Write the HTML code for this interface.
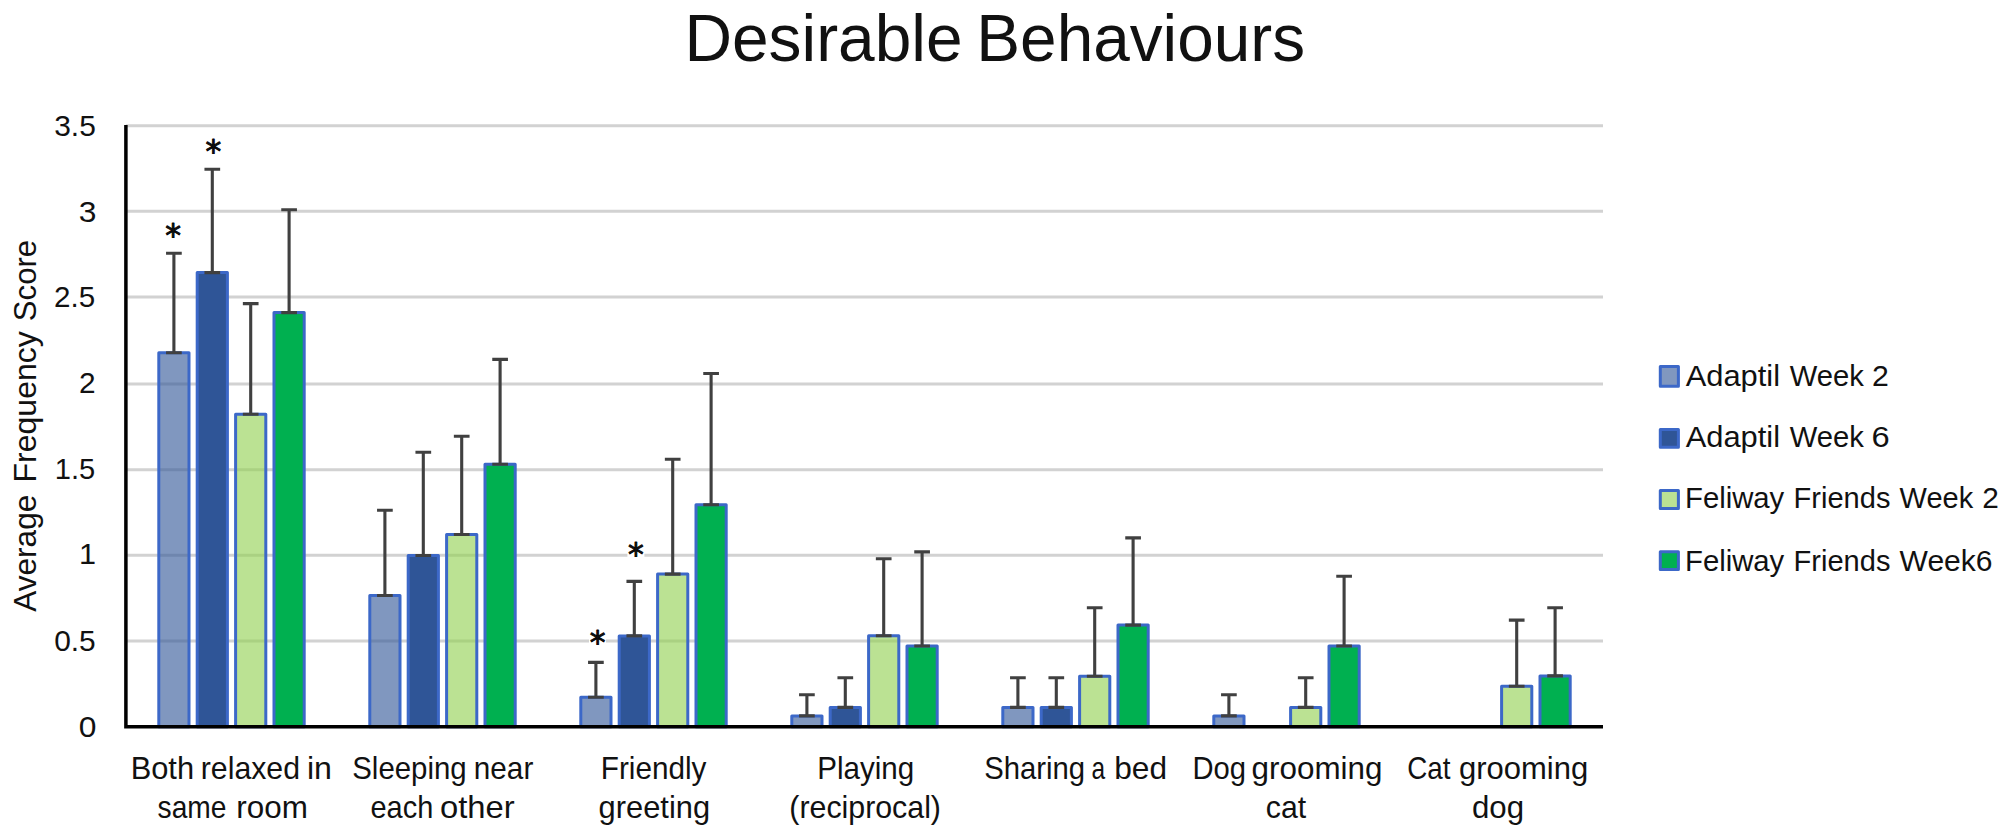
<!DOCTYPE html>
<html lang="en"><head><meta charset="utf-8"><title>Desirable Behaviours</title>
<style>html,body{margin:0;padding:0;background:#fff}body{width:2008px;height:835px;overflow:hidden}svg{display:block}text{font-family:"Liberation Sans",sans-serif;fill:#111}</style></head><body>
<svg width="2008" height="835" viewBox="0 0 2008 835">
<rect width="2008" height="835" fill="#fff"/>
<g stroke="#d2d2d2" stroke-width="3">
<line x1="125.9" y1="641.00" x2="1603.0" y2="641.00"/>
<line x1="125.9" y1="555.30" x2="1603.0" y2="555.30"/>
<line x1="125.9" y1="469.70" x2="1603.0" y2="469.70"/>
<line x1="125.9" y1="384.00" x2="1603.0" y2="384.00"/>
<line x1="125.9" y1="296.90" x2="1603.0" y2="296.90"/>
<line x1="125.9" y1="211.30" x2="1603.0" y2="211.30"/>
<line x1="125.9" y1="125.70" x2="1603.0" y2="125.70"/>
</g>
<g stroke="#3c68c8" stroke-width="3" stroke-linejoin="round">
<rect x="158.80" y="352.80" width="30.2" height="373.90" fill="rgba(47,85,151,0.61)"/>
<rect x="197.20" y="272.60" width="30.2" height="454.10" fill="#2f5597"/>
<rect x="235.60" y="414.20" width="30.2" height="312.50" fill="rgba(146,208,80,0.62)"/>
<rect x="274.00" y="312.60" width="30.2" height="414.10" fill="#00b050"/>
<rect x="369.80" y="595.50" width="30.2" height="131.20" fill="rgba(47,85,151,0.61)"/>
<rect x="408.20" y="555.50" width="30.2" height="171.20" fill="#2f5597"/>
<rect x="446.60" y="534.50" width="30.2" height="192.20" fill="rgba(146,208,80,0.62)"/>
<rect x="485.00" y="464.20" width="30.2" height="262.50" fill="#00b050"/>
<rect x="580.80" y="697.30" width="30.2" height="29.40" fill="rgba(47,85,151,0.61)"/>
<rect x="619.20" y="635.90" width="30.2" height="90.80" fill="#2f5597"/>
<rect x="657.60" y="574.10" width="30.2" height="152.60" fill="rgba(146,208,80,0.62)"/>
<rect x="696.00" y="504.70" width="30.2" height="222.00" fill="#00b050"/>
<rect x="791.80" y="715.90" width="30.2" height="10.80" fill="rgba(47,85,151,0.61)"/>
<rect x="830.20" y="707.40" width="30.2" height="19.30" fill="#2f5597"/>
<rect x="868.60" y="635.70" width="30.2" height="91.00" fill="rgba(146,208,80,0.62)"/>
<rect x="907.00" y="646.00" width="30.2" height="80.70" fill="#00b050"/>
<rect x="1002.80" y="707.40" width="30.2" height="19.30" fill="rgba(47,85,151,0.61)"/>
<rect x="1041.20" y="707.40" width="30.2" height="19.30" fill="#2f5597"/>
<rect x="1079.60" y="676.20" width="30.2" height="50.50" fill="rgba(146,208,80,0.62)"/>
<rect x="1118.00" y="625.10" width="30.2" height="101.60" fill="#00b050"/>
<rect x="1213.80" y="715.90" width="30.2" height="10.80" fill="rgba(47,85,151,0.61)"/>
<rect x="1290.60" y="707.40" width="30.2" height="19.30" fill="rgba(146,208,80,0.62)"/>
<rect x="1329.00" y="646.00" width="30.2" height="80.70" fill="#00b050"/>
<rect x="1501.60" y="686.20" width="30.2" height="40.50" fill="rgba(146,208,80,0.62)"/>
<rect x="1540.00" y="675.90" width="30.2" height="50.80" fill="#00b050"/>
</g>
<g stroke="#404040" stroke-width="3.1" fill="none">
<path d="M166.05 253.20H181.75M173.90 253.20V352.80M166.05 352.80H181.75"/>
<path d="M204.45 169.20H220.15M212.30 169.20V272.60M204.45 272.60H220.15"/>
<path d="M242.85 303.60H258.55M250.70 303.60V414.20M242.85 414.20H258.55"/>
<path d="M281.25 209.70H296.95M289.10 209.70V312.60M281.25 312.60H296.95"/>
<path d="M377.05 510.30H392.75M384.90 510.30V595.50M377.05 595.50H392.75"/>
<path d="M415.45 452.20H431.15M423.30 452.20V555.50M415.45 555.50H431.15"/>
<path d="M453.85 436.30H469.55M461.70 436.30V534.50M453.85 534.50H469.55"/>
<path d="M492.25 359.40H507.95M500.10 359.40V464.20M492.25 464.20H507.95"/>
<path d="M588.05 662.40H603.75M595.90 662.40V697.30M588.05 697.30H603.75"/>
<path d="M626.45 581.40H642.15M634.30 581.40V635.90M626.45 635.90H642.15"/>
<path d="M664.85 459.20H680.55M672.70 459.20V574.10M664.85 574.10H680.55"/>
<path d="M703.25 373.50H718.95M711.10 373.50V504.70M703.25 504.70H718.95"/>
<path d="M799.05 694.80H814.75M806.90 694.80V715.90M799.05 715.90H814.75"/>
<path d="M837.45 677.70H853.15M845.30 677.70V707.40M837.45 707.40H853.15"/>
<path d="M875.85 558.70H891.55M883.70 558.70V635.70M875.85 635.70H891.55"/>
<path d="M914.25 551.90H929.95M922.10 551.90V646.00M914.25 646.00H929.95"/>
<path d="M1010.05 677.70H1025.75M1017.90 677.70V707.40M1010.05 707.40H1025.75"/>
<path d="M1048.45 677.70H1064.15M1056.30 677.70V707.40M1048.45 707.40H1064.15"/>
<path d="M1086.85 607.80H1102.55M1094.70 607.80V676.20M1086.85 676.20H1102.55"/>
<path d="M1125.25 537.90H1140.95M1133.10 537.90V625.10M1125.25 625.10H1140.95"/>
<path d="M1221.05 694.80H1236.75M1228.90 694.80V715.90M1221.05 715.90H1236.75"/>
<path d="M1297.85 677.70H1313.55M1305.70 677.70V707.40M1297.85 707.40H1313.55"/>
<path d="M1336.25 576.30H1351.95M1344.10 576.30V646.00M1336.25 646.00H1351.95"/>
<path d="M1508.85 620.10H1524.55M1516.70 620.10V686.20M1508.85 686.20H1524.55"/>
<path d="M1547.25 607.80H1562.95M1555.10 607.80V675.90M1547.25 675.90H1562.95"/>
</g>
<path d="M125.9 124.9V726.7H1603.0" fill="none" stroke="#000" stroke-width="3.5" stroke-linejoin="miter"/>
<text x="173.20" y="245.90" font-size="31.5" text-anchor="middle" stroke="#000" stroke-width="0.9" stroke-linejoin="round" style="font-family:'DejaVu Sans',sans-serif">*</text>
<text x="213.30" y="162.00" font-size="31.5" text-anchor="middle" stroke="#000" stroke-width="0.9" stroke-linejoin="round" style="font-family:'DejaVu Sans',sans-serif">*</text>
<rect x="589.00" y="627.20" width="17" height="18" fill="#fff"/>
<text x="597.50" y="652.60" font-size="31.5" text-anchor="middle" stroke="#000" stroke-width="0.9" stroke-linejoin="round" style="font-family:'DejaVu Sans',sans-serif">*</text>
<rect x="627.40" y="539.40" width="17" height="18" fill="#fff"/>
<text x="635.90" y="564.80" font-size="31.5" text-anchor="middle" stroke="#000" stroke-width="0.9" stroke-linejoin="round" style="font-family:'DejaVu Sans',sans-serif">*</text>
<text y="61.00" font-size="66.5"><tspan x="684.40" textLength="278.21" lengthAdjust="spacingAndGlyphs">Desirable</tspan> <tspan x="976.31" textLength="328.75" lengthAdjust="spacingAndGlyphs">Behaviours</tspan></text>
<text y="736.80" font-size="30.0"><tspan x="78.76" textLength="17.67" lengthAdjust="spacingAndGlyphs">0</tspan></text>
<text y="651.30" font-size="30.0"><tspan x="54.13" textLength="41.61" lengthAdjust="spacingAndGlyphs">0.5</tspan></text>
<text y="564.10" font-size="30.0"><tspan x="78.98" textLength="17.01" lengthAdjust="spacingAndGlyphs">1</tspan></text>
<text y="478.50" font-size="30.0"><tspan x="54.79" textLength="40.42" lengthAdjust="spacingAndGlyphs">1.5</tspan></text>
<text y="392.60" font-size="30.0"><tspan x="79.01" textLength="16.59" lengthAdjust="spacingAndGlyphs">2</tspan></text>
<text y="307.00" font-size="30.0"><tspan x="54.12" textLength="41.11" lengthAdjust="spacingAndGlyphs">2.5</tspan></text>
<text y="221.50" font-size="30.0"><tspan x="78.79" textLength="17.70" lengthAdjust="spacingAndGlyphs">3</tspan></text>
<text y="136.20" font-size="30.0"><tspan x="54.16" textLength="41.69" lengthAdjust="spacingAndGlyphs">3.5</tspan></text>
<g transform="translate(35.6,611.8) rotate(-90)"><text y="0.00" font-size="32.0"><tspan x="-0.05" textLength="117.24" lengthAdjust="spacingAndGlyphs">Average</tspan> <tspan x="129.38" textLength="151.18" lengthAdjust="spacingAndGlyphs">Frequency</tspan> <tspan x="290.60" textLength="81.38" lengthAdjust="spacingAndGlyphs">Score</tspan></text></g>
<text y="778.50" font-size="30.5"><tspan x="130.67" textLength="63.42" lengthAdjust="spacingAndGlyphs">Both</tspan> <tspan x="200.80" textLength="99.24" lengthAdjust="spacingAndGlyphs">relaxed</tspan> <tspan x="306.96" textLength="25.02" lengthAdjust="spacingAndGlyphs">in</tspan></text>
<text y="818.10" font-size="30.5"><tspan x="157.62" textLength="68.92" lengthAdjust="spacingAndGlyphs">same</tspan> <tspan x="236.33" textLength="71.52" lengthAdjust="spacingAndGlyphs">room</tspan></text>
<text y="778.50" font-size="30.5"><tspan x="352.28" textLength="114.41" lengthAdjust="spacingAndGlyphs">Sleeping</tspan> <tspan x="473.84" textLength="59.45" lengthAdjust="spacingAndGlyphs">near</tspan></text>
<text y="818.10" font-size="30.5"><tspan x="370.48" textLength="62.78" lengthAdjust="spacingAndGlyphs">each</tspan> <tspan x="439.94" textLength="74.69" lengthAdjust="spacingAndGlyphs">other</tspan></text>
<text y="778.50" font-size="30.5"><tspan x="600.76" textLength="105.69" lengthAdjust="spacingAndGlyphs">Friendly</tspan></text>
<text y="818.10" font-size="30.5"><tspan x="598.62" textLength="111.46" lengthAdjust="spacingAndGlyphs">greeting</tspan></text>
<text y="778.50" font-size="30.5"><tspan x="817.17" textLength="97.03" lengthAdjust="spacingAndGlyphs">Playing</tspan></text>
<text y="818.10" font-size="30.5"><tspan x="789.32" textLength="151.66" lengthAdjust="spacingAndGlyphs">(reciprocal)</tspan></text>
<text y="778.50" font-size="30.5"><tspan x="984.28" textLength="100.90" lengthAdjust="spacingAndGlyphs">Sharing</tspan> <tspan x="1091.57" textLength="13.62" lengthAdjust="spacingAndGlyphs">a</tspan> <tspan x="1114.17" textLength="52.85" lengthAdjust="spacingAndGlyphs">bed</tspan></text>
<text y="778.50" font-size="30.5"><tspan x="1192.41" textLength="53.56" lengthAdjust="spacingAndGlyphs">Dog</tspan> <tspan x="1251.60" textLength="130.91" lengthAdjust="spacingAndGlyphs">grooming</tspan></text>
<text y="818.10" font-size="30.5"><tspan x="1265.83" textLength="40.38" lengthAdjust="spacingAndGlyphs">cat</tspan></text>
<text y="778.50" font-size="30.5"><tspan x="1407.30" textLength="43.19" lengthAdjust="spacingAndGlyphs">Cat</tspan> <tspan x="1458.91" textLength="129.27" lengthAdjust="spacingAndGlyphs">grooming</tspan></text>
<text y="818.10" font-size="30.5"><tspan x="1472.00" textLength="52.09" lengthAdjust="spacingAndGlyphs">dog</tspan></text>
<text y="385.60" font-size="30.2"><tspan x="1685.65" textLength="94.40" lengthAdjust="spacingAndGlyphs">Adaptil</tspan> <tspan x="1789.68" textLength="74.08" lengthAdjust="spacingAndGlyphs">Week</tspan> <tspan x="1872.09" textLength="16.83" lengthAdjust="spacingAndGlyphs">2</tspan></text>
<text y="446.60" font-size="30.2"><tspan x="1685.65" textLength="94.40" lengthAdjust="spacingAndGlyphs">Adaptil</tspan> <tspan x="1789.68" textLength="74.08" lengthAdjust="spacingAndGlyphs">Week</tspan> <tspan x="1871.55" textLength="18.18" lengthAdjust="spacingAndGlyphs">6</tspan></text>
<text y="507.90" font-size="30.2"><tspan x="1685.00" textLength="99.25" lengthAdjust="spacingAndGlyphs">Feliway</tspan> <tspan x="1793.62" textLength="96.83" lengthAdjust="spacingAndGlyphs">Friends</tspan> <tspan x="1899.58" textLength="73.58" lengthAdjust="spacingAndGlyphs">Week</tspan> <tspan x="1982.31" textLength="16.59" lengthAdjust="spacingAndGlyphs">2</tspan></text>
<text y="570.60" font-size="30.2"><tspan x="1685.00" textLength="99.25" lengthAdjust="spacingAndGlyphs">Feliway</tspan> <tspan x="1793.62" textLength="96.83" lengthAdjust="spacingAndGlyphs">Friends</tspan> <tspan x="1899.58" textLength="92.93" lengthAdjust="spacingAndGlyphs">Week6</tspan></text>
<rect x="1660.30" y="366.60" width="18.10" height="19.60" fill="rgba(47,85,151,0.61)" stroke="#3c68c8" stroke-width="3" stroke-linejoin="round"/>
<rect x="1660.30" y="429.40" width="18.10" height="17.80" fill="#2f5597" stroke="#3c68c8" stroke-width="3" stroke-linejoin="round"/>
<rect x="1660.30" y="490.55" width="18.10" height="17.95" fill="rgba(146,208,80,0.62)" stroke="#3c68c8" stroke-width="3" stroke-linejoin="round"/>
<rect x="1660.30" y="551.80" width="18.10" height="17.70" fill="#00b050" stroke="#3c68c8" stroke-width="3" stroke-linejoin="round"/>
</svg></body></html>
